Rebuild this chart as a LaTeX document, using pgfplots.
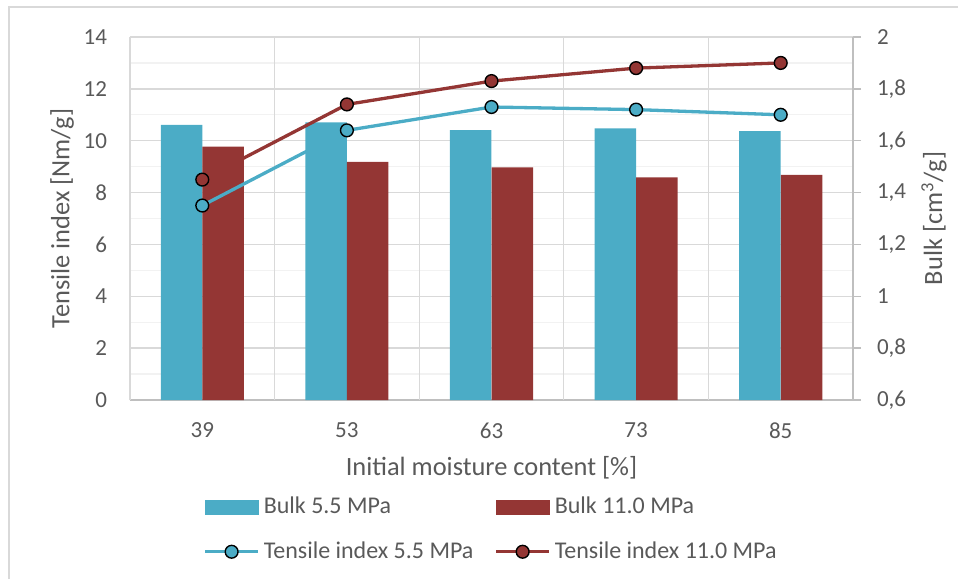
\documentclass[border=0pt]{standalone}
\usepackage{fontspec}
\setmainfont{Carlito}
\usepackage{pgfplots}
\pgfplotsset{compat=1.18}
\definecolor{cblue}{HTML}{4BACC6}
\definecolor{cred}{HTML}{943634}
\definecolor{txt}{HTML}{595959}
\definecolor{gmaj}{HTML}{D9D9D9}
\definecolor{gmin}{HTML}{F2F2F2}
\definecolor{axc}{HTML}{BFBFBF}
\begin{document}
\begin{tikzpicture}[x=1pt,y=1pt]
\path[use as bounding box] (0,0) rectangle (479,289.5);
\draw[gmaj, line width=0.7pt] (4.5,0) -- (4.5,286) -- (479,286);
\pgfplotsset{common/.style={scale only axis, width=361.5pt, height=181.5pt,
  at={(65pt,89.5pt)}, anchor=south west, xmin=-0.5, xmax=4.5,
  xtick={0,...,4}, xticklabels={39,53,63,73,85},
  /pgf/number format/assume math mode=true,
  tick label style={font=\fontsize{11.5}{13}\selectfont, text=txt},
  label style={font=\fontsize{13.2}{16}\selectfont, text=txt}}}
% grid + left axis
\begin{axis}[common, ymin=0, ymax=14, ytick={0,2,...,14}, minor y tick num=1,
  ymajorgrids, yminorgrids,
  major grid style={gmaj, line width=0.65pt},
  minor grid style={gmin, line width=0.65pt},
  axis y line*=left, axis x line*=bottom,
  axis line style={axc, line width=0.65pt},
  major tick length=0pt, minor tick length=0pt,
  extra x ticks={-0.5,0.5,1.5,2.5,3.5,4.5}, extra x tick labels={},
  extra x tick style={grid=major, major tick length=0pt},
  yticklabel style={xshift=-8pt},
  xticklabel style={yshift=-8pt},
  ylabel={Tensile index [Nm/g]},
  ylabel style={at={(axis description cs:-0.094,0.5)}, anchor=center},
  xlabel={Initial moisture content [\%]},
  xlabel style={at={(axis description cs:0.5,-0.1873)}, anchor=center}]
\end{axis}
% bars, right axis
\begin{axis}[common, ymin=0.6, ymax=2, axis y line*=right, axis x line=none,
  ytick={0.6,0.8,1,1.2,1.4,1.6,1.8,2},
  yticklabels={{0,6},{0,8},1,{1,2},{1,4},{1,6},{1,8},2},
  tick align=outside, major tick length=4pt,
  y tick style={axc, line width=0.65pt},
  axis line style={axc, line width=0.65pt},
  yticklabel style={xshift=4.5pt},
  ybar, bar width=20.75pt,
  ylabel={Bulk [cm\textsuperscript{3}/g]},
  ylabel style={at={(axis description cs:1.112,0.5)}, anchor=center}]
\addplot[fill=cblue, draw=none, bar shift=-10.4pt] coordinates {(0,1.661) (1,1.671) (2,1.641) (3,1.648) (4,1.637)};
\addplot[fill=cred, draw=none, bar shift=10.4pt] coordinates {(0,1.577) (1,1.518) (2,1.497) (3,1.459) (4,1.468)};
\end{axis}
% lines
\begin{axis}[common, ymin=0, ymax=14, hide axis,
  legend columns=2, legend cell align=left,
  legend style={draw=none, fill=none, at={(axis description cs:0.5008,-0.3565)}, anchor=center,
    font=\fontsize{12}{14}\selectfont, text=txt, row sep=8.5pt,
    /tikz/every even column/.append style={column sep=8.5pt}},
  legend image code/.code={\draw[#1, mark repeat=2, mark phase=2] plot coordinates {(0pt,0pt) (13.25pt,0pt) (26.5pt,0pt)};}]
\addlegendimage{legend image code/.code={\fill[cblue] (0pt,-3.5pt) rectangle (26.5pt,3.5pt);}}
\addlegendentry{Bulk 5.5 MPa}
\addlegendimage{legend image code/.code={\fill[cred] (0pt,-3.5pt) rectangle (26.5pt,3.5pt);}}
\addlegendentry{Bulk 11.0 MPa}
\addplot[cblue, line width=1.65pt, line join=round, mark=*, mark size=3.2pt,
  mark options={fill=cblue, draw=black, line width=0.7pt}]
  coordinates {(0,7.5) (1,10.4) (2,11.3) (3,11.2) (4,11.0)};
\addlegendentry{Tensile index 5.5 MPa}
\addplot[cred, line width=1.65pt, line join=round, mark=*, mark size=3.2pt,
  mark options={fill=cred, draw=black, line width=0.7pt}]
  coordinates {(0,8.5) (1,11.4) (2,12.3) (3,12.8) (4,13.0)};
\addlegendentry{Tensile index 11.0 MPa}
\end{axis}
\end{tikzpicture}
\end{document}
